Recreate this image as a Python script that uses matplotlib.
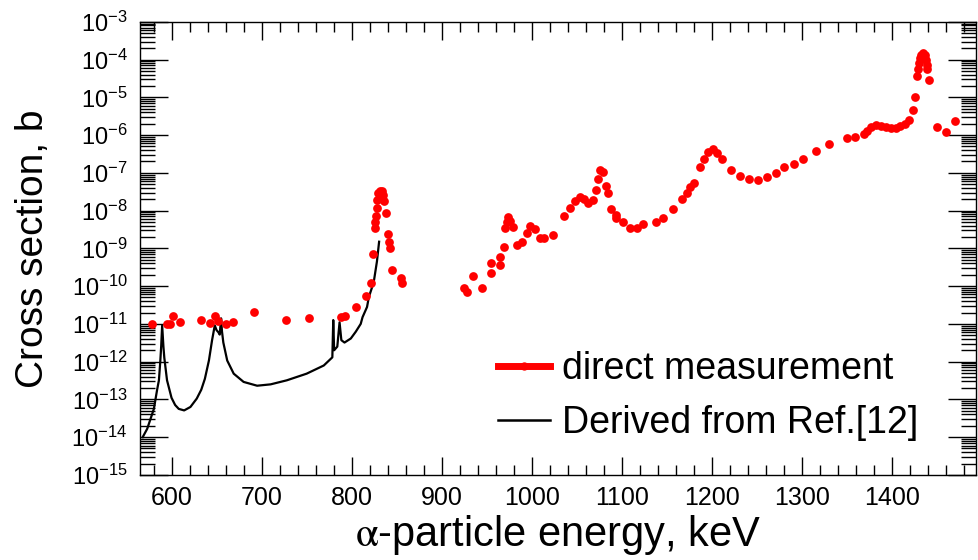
import math
import matplotlib
matplotlib.use("Agg")
import matplotlib.pyplot as plt
from matplotlib.lines import Line2D
from matplotlib.ticker import MultipleLocator, LogLocator, FixedLocator, NullFormatter, FuncFormatter

plt.rcParams["font.family"] = "Liberation Sans"
plt.rcParams["mathtext.fontset"] = "stix"
plt.rcParams["mathtext.default"] = "regular"

# ── Data ─────────────────────────────────────────────────────────────────────
# direct measurement (red dots): energy in keV, cross section in b
meas_energy = [
    578.5, 595, 598, 601.5, 609, 633, 642.6, 648, 651.5, 660, 668, 692,
    726.7, 752.6, 787.8, 792, 805, 816, 821, 824, 825.5, 826, 826.7, 827.8,
    828.5, 829.6, 831.5, 833.3, 835, 836, 838.5, 840.8, 841.5, 842, 845,
    855, 855.5,
    924.8, 928.5, 935, 945, 954.4, 955, 964.4, 964.8, 968.5, 970, 972, 974,
    975.5, 979, 983, 988.9, 994.4, 998, 1003.7, 1009, 1013.7, 1023, 1036,
    1042.6, 1047.5, 1053, 1058, 1062.6, 1067.8, 1071, 1073, 1075.5, 1078.5,
    1082.6, 1084, 1087.8, 1093, 1093.3, 1101.5, 1108.5, 1116.3, 1123.3,
    1137.8, 1146, 1156.7, 1166.7, 1171.8, 1176, 1179.6, 1186.7, 1191.5,
    1196, 1201.5, 1206, 1211, 1221, 1231.4, 1240.8, 1250.7, 1260.8, 1271,
    1280, 1290.7, 1300.7, 1315.6, 1330, 1349.6, 1359, 1369, 1372, 1376.7,
    1382, 1387.8, 1393, 1398.9, 1404, 1409, 1413.7, 1418.5, 1423, 1425.6,
    1427.8, 1428.5, 1429.6, 1430.8, 1432, 1434, 1436, 1437, 1438, 1439,
    1440.7, 1450, 1459.7, 1470,
]
meas_sigma = [
    1.0e-11, 1.0e-11, 1.0e-11, 1.6e-11, 1.1e-11, 1.25e-11, 1.05e-11, 1.6e-11,
    1.2e-11, 9.8e-12, 1.1e-11, 2.1e-11, 1.3e-11, 1.45e-11, 1.5e-11, 1.6e-11,
    2.8e-11, 5.4e-11, 1.2e-10, 6.9e-10, 3.4e-9, 5.0e-9, 7.1e-9, 1.2e-8,
    1.9e-8, 2.9e-8, 3.4e-8, 3.4e-8, 2.6e-8, 1.8e-8, 8.5e-9, 2.4e-9, 1.5e-9,
    1.0e-9, 2.6e-10, 1.6e-10, 1.2e-10,
    8.9e-11, 7.1e-11, 1.8e-10, 9.1e-11, 2.2e-10, 4.0e-10, 3.7e-10, 5.8e-10,
    1.1e-9, 3.5e-9, 5.0e-9, 6.9e-9, 5.2e-9, 3.7e-9, 1.2e-9, 1.5e-9, 2.5e-9,
    3.9e-9, 3.2e-9, 1.9e-9, 1.9e-9, 2.2e-9, 7.1e-9, 1.15e-8, 1.8e-8, 2.3e-8,
    2.0e-8, 1.55e-8, 1.9e-8, 3.6e-8, 6.8e-8, 1.2e-7, 1.07e-7, 4.5e-8, 2.9e-8,
    1.07e-8, 7.6e-9, 6.2e-9, 5.0e-9, 3.4e-9, 3.4e-9, 4.4e-9, 5.0e-9, 6.5e-9,
    1.1e-8, 2.0e-8, 2.9e-8, 4.1e-8, 5.5e-8, 1.4e-7, 2.3e-7, 3.6e-7, 4.3e-7,
    3.3e-7, 2.3e-7, 1.2e-7, 8.3e-8, 6.9e-8, 6.5e-8, 7.9e-8, 9.8e-8, 1.4e-7,
    1.7e-7, 2.3e-7, 3.9e-7, 5.8e-7, 8.5e-7, 9.1e-7, 1.05e-6, 1.3e-6, 1.6e-6,
    1.8e-6, 1.75e-6, 1.6e-6, 1.5e-6, 1.5e-6, 1.75e-6, 1.95e-6, 2.5e-6,
    4.7e-6, 1.0e-5, 3.7e-5, 5.6e-5, 7.9e-5, 1.1e-4, 1.3e-4, 1.5e-4, 1.3e-4,
    1.0e-4, 7.2e-5, 5.6e-5, 2.9e-5, 1.6e-6, 1.2e-6, 2.3e-6,
]

# derived from Ref.[12] (black line)
ref_energy = [
    568, 573, 577, 580.4, 584, 586, 587.5, 588.5, 589.6, 591, 592, 595, 600,
    604, 608, 614, 621, 628, 633, 637, 641.5, 645, 648, 650, 652, 653.5, 655,
    656, 657.5, 661.8, 669, 680, 695, 710, 728, 750, 769, 778.5, 779.5,
    780.5, 784, 786.5, 788.5, 792, 799, 804.5, 810, 812, 817, 819, 823,
    824.8, 828, 830.4,
]
ref_sigma = [
    1.0e-14, 1.66e-14, 3.2e-14, 5.6e-14, 1.8e-13, 3.2e-13, 1.0e-12, 2.5e-12,
    9.1e-12, 2.5e-12, 1.26e-12, 3.2e-13, 1.1e-13, 7.1e-14, 5.6e-14, 5.1e-14,
    6.3e-14, 1.05e-13, 1.8e-13, 3.5e-13, 1.07e-12, 3.7e-12, 9.1e-12, 6.8e-12,
    6.0e-12, 5.2e-12, 1.4e-11, 6.3e-12, 3.2e-12, 1.07e-12, 4.8e-13, 2.9e-13,
    2.3e-13, 2.5e-13, 3.2e-13, 4.8e-13, 7.9e-13, 1.3e-12, 1.26e-11, 2.0e-12,
    2.5e-12, 1.1e-11, 3.7e-12, 3.2e-12, 4.1e-12, 6.2e-12, 1.0e-11, 1.5e-11,
    2.8e-11, 5.1e-11, 1.0e-10, 1.45e-10, 4.5e-10, 1.5e-9,
]

x_ticks = [600, 700, 800, 900, 1000, 1100, 1200, 1300, 1400]

# ── Plot ─────────────────────────────────────────────────────────────────────
fig, ax = plt.subplots(figsize=(9.79, 5.6), dpi=100)
fig.subplots_adjust(left=0.143, right=0.997, top=0.961, bottom=0.152)

ax.plot(meas_energy, meas_sigma, "o", color="red", ms=6.3, mec="none", zorder=3)
ax.plot(ref_energy, ref_sigma, "-", color="black", lw=1.6, zorder=2)

ax.set_yscale("log")
ax.set_xlim(565, 1493)
ax.set_ylim(1e-15, 1e-3)

ax.xaxis.set_major_locator(FixedLocator(x_ticks))
ax.xaxis.set_minor_locator(MultipleLocator(20))
ax.yaxis.set_major_locator(LogLocator(base=10, numticks=20))
ax.yaxis.set_minor_locator(LogLocator(base=10, subs=range(2, 10), numticks=200))
ax.yaxis.set_minor_formatter(NullFormatter())
ax.yaxis.set_major_formatter(FuncFormatter(lambda v, p: r"$10^{%d}$" % round(math.log10(v))))

ax.tick_params(axis="both", which="both", direction="in", top=True, right=True)
ax.tick_params(axis="x", which="major", length=13, width=1, labelsize=18, pad=8)
ax.tick_params(axis="x", which="minor", length=7, width=1)
ax.tick_params(axis="y", which="major", length=20, width=1, labelsize=17, pad=9)
ax.tick_params(axis="y", which="minor", length=11, width=1)
for s in ax.spines.values():
    s.set_linewidth(1.0)

ax.set_xlabel(r"$\mathrm{\alpha}$-particle energy, keV", fontsize=30, labelpad=2)
ax.set_ylabel("Cross section, b", fontsize=28, labelpad=15)

handles = [
    Line2D([], [], color="red", lw=5, marker="o", ms=5),
    Line2D([], [], color="black", lw=1.8),
]
ax.legend(handles, ["direct measurement", "Derived from Ref.[12]"],
          loc="center left", bbox_to_anchor=(0.428, 0.174), frameon=False,
          fontsize=27, borderpad=0, borderaxespad=0, handlelength=1.4,
          handletextpad=0.3, labelspacing=0.5)

plt.savefig("out.png", dpi=100)
